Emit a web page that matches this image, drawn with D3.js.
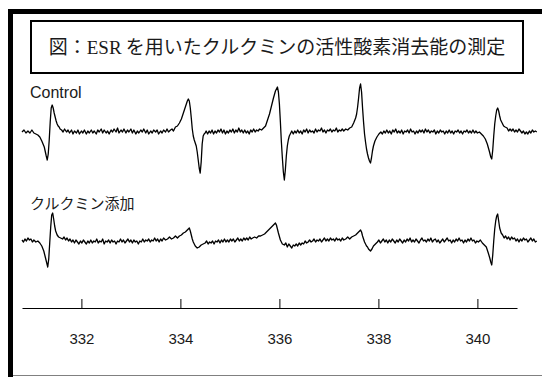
<!DOCTYPE html>
<html>
<head>
<meta charset="utf-8">
<script src="https://cdn.jsdelivr.net/npm/d3@7"></script>
<style>
  html, body { margin: 0; padding: 0; background: #fff; }
  svg { display: block; }
</style>
</head>
<body>
<div id="chart"></div>
<script>
// title pieces (serif part is the ESR word)
const titleParts = [
  { text: "図：", serif: false },
  { text: "ESR", serif: true },
  { text: " を用いたクルクミンの活性酸素消去能の測定", serif: false }
];
const traceLabels = ["Control", "クルクミン添加"];
const tickValues = [332, 334, 336, 338, 340];
const fieldDomain = [330.8, 340.8];

// [magnetic field (mT), signal (a.u.)]
const controlTrace = [
  [330.80,0],[330.84,2],[330.88,-1],[330.92,1],[330.96,-1],[331.00,2],[331.04,-1],[331.08,-2],[331.12,-3],
  [331.16,-5],[331.20,-9],[331.25,-15],[331.29,-24],[331.31,-28],[331.33,-22],[331.35,-8],
  [331.37,10],[331.39,24],[331.41,27],[331.43,24],[331.45,19],[331.47,15],[331.49,11],
  [331.51,8],[331.53,6],[331.55,5],[331.57,3],[331.60,2],[331.63,0],[331.66,3],
  [331.70,0],[331.73,2],[331.76,-1],[331.80,2],[331.83,-2],[331.86,1],[331.90,-1],[331.93,2],
  [331.96,-2],[332.00,1],[332.03,-1],[332.06,2],[332.10,-2],[332.13,1],[332.16,-1],[332.20,2],
  [332.23,-1],[332.26,1],[332.30,-2],[332.33,2],[332.36,0],[332.40,3],[332.43,-1],[332.46,2],
  [332.50,-1],[332.53,1],[332.56,-2],[332.60,2],[332.63,0],[332.66,3],[332.70,0],[332.73,4],
  [332.76,-1],[332.80,2],[332.83,0],[332.86,3],[332.90,-1],[332.93,2],[332.96,0],[333.00,3],
  [333.03,-1],[333.06,2],[333.10,-2],[333.13,1],[333.16,-1],[333.20,2],[333.23,0],[333.26,3],
  [333.30,-1],[333.33,2],[333.36,-2],[333.40,1],[333.43,-1],[333.46,2],[333.50,0],[333.53,2],
  [333.56,-2],[333.60,1],[333.63,-1],[333.66,2],[333.70,0],[333.73,3],[333.76,0],[333.80,2],
  [333.83,3],[333.86,1],[333.90,5],
  [333.94,6],[333.98,9],[334.02,13],[334.06,19],[334.10,25],[334.14,31],[334.16,33],[334.18,31],
  [334.20,24],[334.22,14],[334.24,3],[334.26,-4],[334.28,-8],[334.30,-11],[334.32,-14],
  [334.34,-20],[334.36,-28],[334.38,-36],[334.40,-41],[334.42,-30],[334.44,-12],[334.46,-4],
  [334.48,-2],[334.50,-1],[334.52,1],
  [334.55,-2],[334.58,1],[334.61,-1],[334.64,2],[334.67,-2],[334.70,1],[334.73,-1],[334.76,2],
  [334.79,0],[334.82,3],[334.85,-1],[334.88,2],[334.91,-2],[334.94,1],[334.97,-1],[335.00,2],
  [335.03,0],[335.06,3],[335.09,-1],[335.12,2],[335.15,0],[335.18,4],[335.21,0],[335.24,2],
  [335.27,-1],[335.30,2],[335.33,-1],[335.36,1],[335.39,-2],[335.42,2],[335.45,0],[335.48,3],
  [335.51,0],[335.54,2],[335.57,1],[335.60,3],[335.64,2],
  [335.68,4],[335.72,6],[335.76,12],[335.80,18],[335.84,26],[335.88,34],[335.92,41],[335.96,45],
  [335.98,40],[336.00,28],[336.02,10],[336.04,-10],[336.06,-26],[336.08,-40],[336.10,-48],
  [336.12,-38],[336.14,-24],[336.16,-14],[336.18,-8],[336.20,-4],[336.22,-2],[336.25,1],
  [336.28,-2],[336.31,1],[336.34,-1],[336.37,2],[336.40,-1],[336.43,1],[336.46,-2],[336.49,2],
  [336.52,0],[336.55,3],[336.58,-1],[336.61,2],[336.64,0],[336.67,1],[336.70,-1],[336.73,3],
  [336.76,0],[336.79,2],[336.82,1],[336.85,4],[336.88,0],[336.91,2],[336.94,-1],[336.97,2],
  [337.00,1],[337.03,3],[337.06,0],[337.09,2],[337.12,1],[337.15,4],[337.18,0],[337.21,2],
  [337.24,1],[337.27,3],[337.30,1],[337.34,3],[337.38,2],[337.42,4],
  [337.46,5],[337.50,9],[337.54,14],[337.56,18],[337.58,25],[337.60,34],[337.62,44],[337.64,48],
  [337.66,40],[337.68,24],[337.70,10],[337.72,-2],[337.74,-10],[337.76,-17],[337.78,-22],
  [337.80,-26],[337.82,-29],[337.84,-31],[337.86,-26],[337.88,-19],[337.90,-14],[337.93,-9],
  [337.97,-5],[338.01,-2],[338.05,0],
  [338.08,-2],[338.11,1],[338.14,-1],[338.17,2],[338.20,-1],[338.23,1],[338.26,-2],[338.29,2],
  [338.32,0],[338.35,3],[338.38,-1],[338.41,1],[338.44,-1],[338.47,2],[338.50,-2],[338.53,1],
  [338.56,0],[338.59,2],[338.62,-1],[338.65,3],[338.68,0],[338.71,1],[338.74,-2],[338.77,1],
  [338.80,-1],[338.83,2],[338.86,0],[338.89,2],[338.92,-1],[338.95,3],[338.98,0],[339.01,2],
  [339.04,-1],[339.07,1],[339.10,0],[339.13,2],[339.16,-2],[339.19,1],[339.22,-1],[339.25,2],
  [339.28,0],[339.31,1],[339.34,-2],[339.37,1],[339.40,-1],[339.43,2],[339.46,-1],[339.49,1],
  [339.52,-2],[339.55,1],[339.58,0],[339.61,2],[339.64,-1],[339.67,1],[339.70,-2],[339.73,1],
  [339.76,0],[339.79,2],[339.82,-1],[339.85,1],[339.88,-1],[339.91,2],[339.94,-1],[339.97,1],
  [340.00,-1],[340.04,0],
  [340.08,-2],[340.12,-4],[340.16,-7],[340.20,-12],[340.24,-19],[340.27,-25],[340.29,-27],
  [340.31,-18],[340.33,-4],[340.35,8],[340.37,16],[340.39,22],[340.41,24],[340.43,21],
  [340.45,16],[340.47,12],[340.50,9],[340.53,6],[340.56,5],[340.60,4],[340.63,1],[340.66,3],
  [340.69,1],[340.72,3],[340.75,0],[340.78,2],[340.81,0],[340.84,3],[340.87,1],[340.90,-1],
  [340.93,1],[340.96,-2],[340.99,0],[341.02,-2],[341.05,1],[341.08,-1],[341.11,2],[341.14,0],
  [341.17,1],[341.20,0]
];

const curcuminTrace = [
  [330.80,1],[330.83,-1],[330.86,2],[330.89,0],[330.92,3],[330.95,1],[330.98,2],[331.01,-1],
  [331.04,1],[331.08,-1],[331.12,0],[331.16,-2],[331.20,-5],[331.24,-10],[331.27,-16],[331.30,-22],
  [331.32,-26],[331.34,-18],[331.36,-2],[331.38,14],[331.40,26],[331.42,28],[331.44,22],[331.46,15],
  [331.48,10],[331.51,6],[331.54,4],[331.58,3],[331.62,2],
  [331.65,4],[331.68,1],[331.71,3],[331.74,0],[331.77,2],[331.80,-1],[331.83,1],[331.86,-2],
  [331.89,1],[331.92,-1],[331.95,-3],[331.98,0],[332.01,-2],[332.04,1],[332.07,-1],[332.10,-3],
  [332.13,0],[332.16,-2],[332.19,1],[332.22,-2],[332.25,0],[332.28,-1],[332.31,2],[332.34,-2],
  [332.37,0],[332.40,-1],[332.43,2],[332.46,-3],[332.49,0],[332.52,-1],[332.55,1],[332.58,-2],
  [332.61,1],[332.64,-1],[332.67,0],[332.70,-3],[332.73,0],[332.76,-1],[332.79,2],[332.82,-1],
  [332.85,1],[332.88,-2],[332.91,0],[332.94,2],[332.97,-1],[333.00,1],[333.03,-2],[333.06,1],
  [333.09,-1],[333.12,0],[333.15,-3],[333.18,0],[333.21,-1],[333.24,2],[333.27,-1],[333.30,1],
  [333.33,0],[333.36,2],[333.39,-1],[333.42,1],[333.45,0],[333.48,3],[333.51,0],[333.54,2],
  [333.57,-1],[333.60,2],[333.63,0],[333.66,3],[333.70,1],[333.74,2],[333.78,4],[333.82,2],
  [333.86,3],[333.90,5],[333.94,3],[333.98,5],[334.02,6],[334.06,8],[334.10,9],[334.14,11],
  [334.18,13],[334.20,10],[334.22,6],[334.24,2],[334.26,-1],[334.28,-3],[334.30,-5],[334.34,-7],
  [334.38,-6],[334.42,-4],[334.46,-3],[334.50,-2],[334.53,0],[334.56,-3],[334.59,-1],[334.62,-2],
  [334.65,0],[334.68,-3],[334.71,0],[334.74,-1],[334.77,1],[334.80,-2],[334.83,1],[334.86,-1],
  [334.89,2],[334.92,-1],[334.95,1],[334.98,-1],[335.01,2],[335.04,0],[335.07,2],[335.10,-1],
  [335.13,1],[335.16,3],[335.19,0],[335.22,2],[335.25,0],[335.28,3],[335.31,1],[335.34,3],
  [335.37,1],[335.40,4],[335.43,2],[335.46,3],[335.50,4],[335.54,3],[335.58,5],[335.62,5],
  [335.66,6],[335.70,7],[335.74,9],[335.78,11],[335.82,13],[335.86,15],[335.90,17],[335.92,18],
  [335.94,16],[335.96,12],[335.98,8],[336.02,1],[336.06,-3],[336.10,-4],[336.13,-2],[336.16,-6],
  [336.19,-3],[336.22,-5],[336.25,-7],[336.28,-4],[336.31,-5],[336.34,-3],[336.37,-5],[336.40,-2],
  [336.43,-4],[336.46,-2],[336.49,-3],[336.52,0],[336.55,-2],[336.58,-1],[336.61,1],[336.64,-1],
  [336.67,0],[336.70,2],[336.73,-1],[336.76,1],[336.79,0],[336.82,2],[336.85,-1],[336.88,1],
  [336.91,3],[336.94,0],[336.97,2],[337.00,0],[337.03,3],[337.06,1],[337.09,2],[337.12,0],
  [337.15,3],[337.18,1],[337.21,2],[337.24,0],[337.27,3],[337.30,1],[337.34,2],[337.38,4],
  [337.42,2],[337.46,4],
  [337.50,5],[337.54,6],[337.58,8],[337.62,10],[337.64,11],[337.66,9],[337.68,5],[337.70,2],
  [337.72,-1],[337.74,-3],[337.76,-5],[337.78,-6],[337.80,-8],[337.84,-10],[337.87,-8],
  [337.90,-5],[337.94,-3],[337.98,-1],
  [338.01,1],[338.04,-2],[338.07,0],[338.10,2],[338.13,-1],[338.16,1],[338.19,-2],[338.22,1],
  [338.25,-1],[338.28,2],[338.31,0],[338.34,-2],[338.37,1],[338.40,-1],[338.43,2],[338.46,0],
  [338.49,-2],[338.52,1],[338.55,-1],[338.58,2],[338.61,0],[338.64,3],[338.67,-1],[338.70,1],
  [338.73,-1],[338.76,2],[338.79,0],[338.82,-2],[338.85,1],[338.88,3],[338.91,0],[338.94,1],
  [338.97,-1],[339.00,2],[339.03,0],[339.06,3],[339.09,-1],[339.12,1],[339.15,2],[339.18,-1],
  [339.21,1],[339.24,-2],[339.27,0],[339.30,2],[339.33,-1],[339.36,1],[339.39,3],[339.42,0],
  [339.45,1],[339.48,-2],[339.51,1],[339.54,-1],[339.57,2],[339.60,0],[339.63,3],[339.66,0],
  [339.69,1],[339.72,-2],[339.75,1],[339.78,-1],[339.81,2],[339.84,0],[339.87,3],[339.90,0],
  [339.93,1],[339.96,-2],[339.99,0],[340.02,-1],[340.06,1],
  [340.10,-2],[340.14,-4],[340.18,-6],[340.22,-12],[340.25,-17],[340.27,-21],[340.29,-24],
  [340.31,-14],[340.33,0],[340.35,12],[340.37,20],[340.39,25],[340.41,27],[340.43,20],
  [340.45,13],[340.48,8],[340.51,6],[340.54,3],[340.57,5],[340.60,2],[340.63,4],[340.66,1],
  [340.69,4],[340.72,2],[340.75,3],[340.78,0],[340.81,2],[340.84,-1],[340.87,2],[340.90,0],
  [340.93,3],[340.96,1],[340.99,2],[341.02,-1],[341.05,1],[341.08,3],[341.11,0],[341.14,2],
  [341.17,-1],[341.20,0]
];

const W = 542, H = 377;
const jpFont = "'Noto Sans CJK JP', 'Noto Sans', sans-serif";
const latinFont = "'Liberation Sans', Arial, sans-serif";

const svg = d3.select("#chart").append("svg")
  .attr("width", W)
  .attr("height", H)
  .attr("viewBox", [0, 0, W, H]);

// frame: thick black on left and top, thin grey at the bottom
svg.append("rect").attr("x", 8).attr("y", 9).attr("width", W - 8).attr("height", 5).attr("fill", "#000");
svg.append("rect").attr("x", 8).attr("y", 9).attr("width", 5).attr("height", H - 9).attr("fill", "#000");
svg.append("line")
  .attr("x1", 13).attr("x2", W).attr("y1", 375.5).attr("y2", 375.5)
  .attr("stroke", "#808080").attr("stroke-width", 1.2);

// title box
svg.append("rect")
  .attr("x", 31).attr("y", 21).attr("width", 492).attr("height", 52)
  .attr("fill", "none").attr("stroke", "#000").attr("stroke-width", 2);

const title = svg.append("text")
  .attr("x", 277).attr("y", 54)
  .attr("text-anchor", "middle")
  .attr("font-size", 19)
  .attr("fill", "#1a1a1a");
title.selectAll("tspan")
  .data(titleParts)
  .join("tspan")
  .attr("font-family", d => d.serif ? "'Liberation Serif', 'DejaVu Serif', serif" : jpFont)
  .text(d => d.text);

const x = d3.scaleLinear().domain(fieldDomain).range([22, 517]);

// one vertical scale per trace band
const yControl = d3.scaleLinear().domain([-50, 50]).range([182, 82]);
const yCurcumin = d3.scaleLinear().domain([-50, 50]).range([291, 191]);

const traces = [
  { label: traceLabels[0], data: controlTrace, y: yControl, labelY: 98 },
  { label: traceLabels[1], data: curcuminTrace, y: yCurcumin, labelY: 209 }
];

traces.forEach(t => {
  const line = d3.line()
    .x(d => x(d[0]))
    .y(d => t.y(d[1]));

  svg.append("path")
    .datum(t.data)
    .attr("fill", "none")
    .attr("stroke", "#000")
    .attr("stroke-width", 1.3)
    .attr("stroke-linejoin", "round")
    .attr("d", line);

  const isLatin = /[A-Za-z]/.test(t.label);
  svg.append("text")
    .attr("x", 30)
    .attr("y", t.labelY)
    .attr("font-family", isLatin ? latinFont : jpFont)
    .attr("font-size", isLatin ? 16 : 15)
    .attr("fill", "#1a1a1a")
    .text(t.label);
});

// field axis, ticks pointing up
const axis = svg.append("g")
  .attr("transform", "translate(0,308)")
  .call(d3.axisBottom(x)
    .tickValues(tickValues)
    .tickFormat(d3.format("d"))
    .tickSizeInner(-9)
    .tickSizeOuter(0)
    .tickPadding(25));

axis.select(".domain").attr("stroke", "#000").attr("stroke-width", 1.2);
axis.selectAll(".tick line").attr("stroke", "#000");
axis.selectAll(".tick text")
  .attr("font-family", latinFont)
  .attr("font-size", 15)
  .attr("fill", "#1a1a1a");
</script>
</body>
</html>
